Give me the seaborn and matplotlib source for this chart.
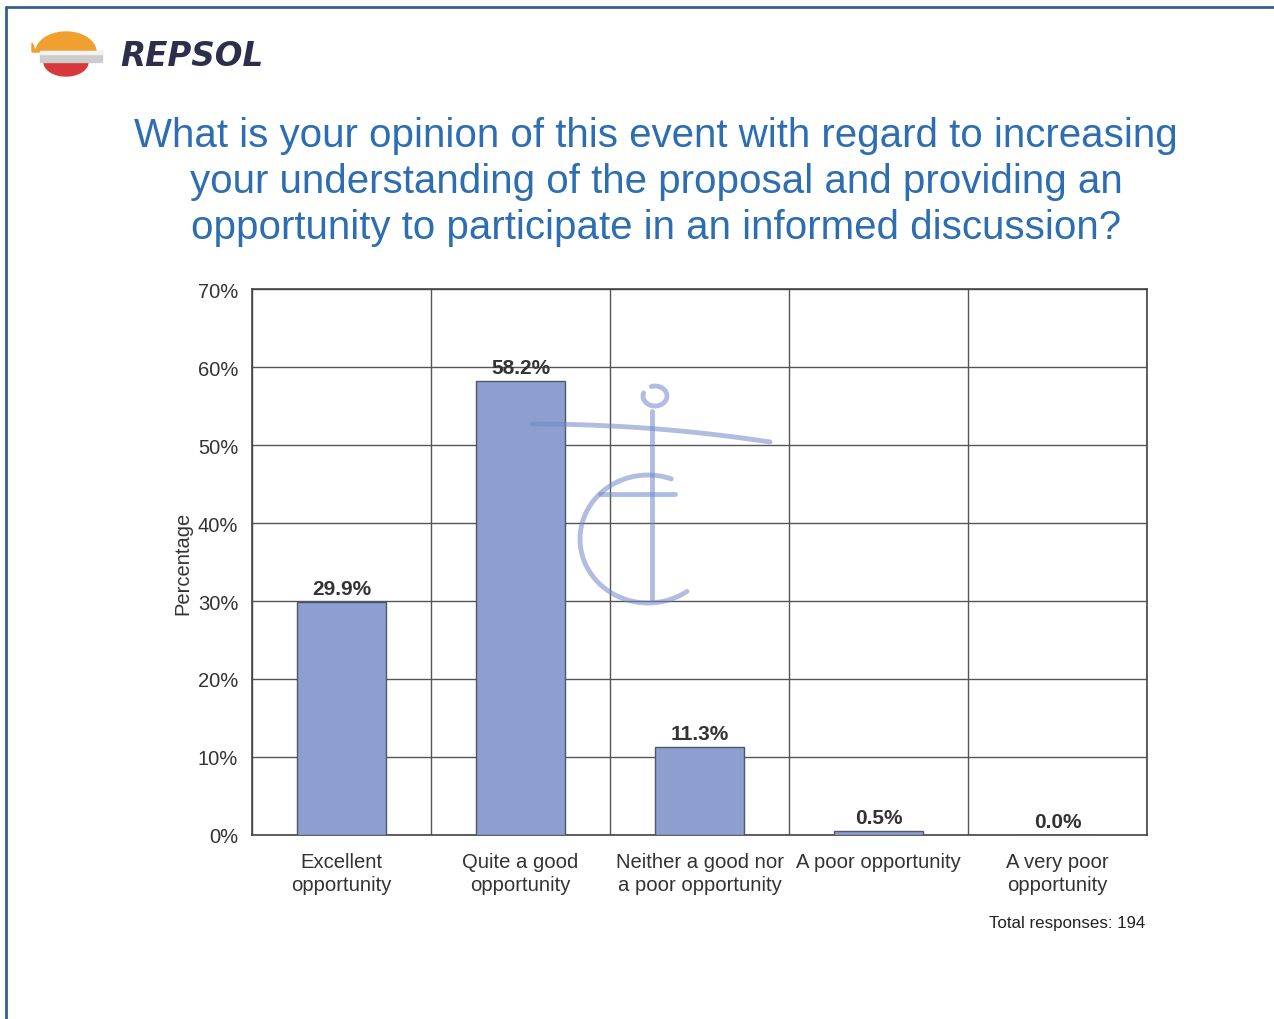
import numpy as np
import pandas as pd
import matplotlib.pyplot as plt
import matplotlib.patches as mpatches
from matplotlib.lines import Line2D
import seaborn as sns

# Survey answers and share of responses (%)
categories = ["Excellent\nopportunity", "Quite a good\nopportunity",
              "Neither a good nor\na poor opportunity", "A poor opportunity",
              "A very poor\nopportunity"]
percentages = [29.9, 58.2, 11.3, 0.5, 0.0]
y_ticks = [0, 10, 20, 30, 40, 50, 60, 70]
total_responses = 194

df = pd.DataFrame({"answer": categories, "pct": percentages})

sns.set_style("white")
plt.rcParams['font.family'] = ['Liberation Sans', 'DejaVu Sans']

W, H = 1274, 1020
fig = plt.figure(figsize=(W / 100, H / 100), dpi=100)
ax = fig.add_axes([252 / W, 1 - 836 / H, (1147 - 252) / W, (836 - 290) / H])

sns.barplot(data=df, x="answer", y="pct", color="#8C9FCF", width=0.5,
            edgecolor="#50566e", linewidth=1.0, saturation=1, ax=ax, zorder=3)

ax.set_ylim(0, 70)
ax.set_xlim(-0.5, len(categories) - 0.5)
ax.set_yticks(y_ticks)
ax.set_yticklabels([f"{t}%" for t in y_ticks], fontsize=14.5, color="#333333")
ax.set_xticks(range(len(categories)))
ax.set_xticklabels(categories, fontsize=14.6, color="#333333", linespacing=1.3)
ax.set_xticks(np.arange(-0.5, len(categories)), minor=True)
ax.tick_params(axis="x", which="major", length=0, pad=12)
ax.tick_params(axis="x", which="minor", length=10, color="#555555", width=1)
ax.tick_params(axis="y", length=8, color="#555555", width=1, pad=2)
ax.grid(axis="y", which="major", color="#555555", linewidth=1, zorder=0)
ax.grid(axis="x", which="minor", color="#555555", linewidth=1, zorder=0)
ax.set_axisbelow(True)
for s in ax.spines.values():
    s.set_color("#444444")
    s.set_linewidth(1.2)
ax.set_xlabel("")
ax.set_ylabel("Percentage", fontsize=14.5, color="#333333", labelpad=4)

for c in ax.containers:
    ax.bar_label(c, labels=[f"{v:.1f}%" for v in percentages], padding=3,
                 fontsize=15, fontweight="bold", color="#333333")

# title
fig.text(656 / W, 1 - 182 / H,
         "What is your opinion of this event with regard to increasing\n"
         "your understanding of the proposal and providing an\n"
         "opportunity to participate in an informed discussion?",
         ha="center", va="center", fontsize=29, color="#2D6DB2", linespacing=1.28)

fig.text(1145 / W, 1 - 924 / H, f"Total responses: {total_responses}",
         ha="right", va="center", fontsize=12.2, color="#222222")

# page frame
fig.add_artist(Line2D([6 / W, 1], [1 - 8 / H, 1 - 8 / H], color="#33608f", lw=2))
fig.add_artist(Line2D([6 / W, 6 / W], [0, 1 - 8 / H], color="#33608f", lw=2))


# logo, drawn in pixel coordinates
def poly(xs, ys, color, z=2):
    pts = np.column_stack([np.asarray(xs) / W, 1 - np.asarray(ys) / H])
    fig.add_artist(mpatches.Polygon(pts, closed=True, color=color,
                                    transform=fig.transFigure, zorder=z))


a = np.linspace(0, np.pi, 40)
poly(np.r_[66 + 30 * np.cos(a), 32, 32], np.r_[53 - 20 * np.sin(a), 44, 53], "#F0A030")
poly([40, 102, 102, 40], [52, 52, 63, 63], "#CCCCCC", 3)
poly([40, 102, 102, 40], [52, 52, 55, 55], "#F2F2F2", 3)
b = np.linspace(np.pi, 2 * np.pi, 40)
poly(66 + 22 * np.cos(b), 63 - 14 * np.sin(b), "#D8383C")
fig.text(120 / W, 1 - 56 / H, "REPSOL", fontsize=23.5, fontweight="bold",
         fontstyle="italic", family="DejaVu Sans", color="#2B2F4C",
         va="center", ha="left")

# faint watermark
wm = dict(color="#7088C8", alpha=0.55, lw=3.5, transform=fig.transFigure, solid_capstyle="round")
t = np.linspace(np.radians(70), np.radians(305), 60)
fig.add_artist(Line2D((648 + 68 * np.cos(t)) / W, 1 - (540 - 64 * np.sin(t)) / H, **wm))
fig.add_artist(Line2D([652 / W, 652 / W], [1 - 412 / H, 1 - 600 / H], **wm))
xs = np.linspace(532, 770, 40)
fig.add_artist(Line2D(xs / W, 1 - (425 + 18 * ((xs - 532) / 238) ** 2) / H, **wm))
fig.add_artist(Line2D([600 / W, 675 / W], [1 - 495 / H, 1 - 495 / H], **wm))
t2 = np.linspace(-np.pi * 0.6, np.pi * 1.1, 30)
fig.add_artist(Line2D((655 + 12 * np.cos(t2)) / W, 1 - (397 + 10 * np.sin(t2)) / H, **wm))

fig.savefig("out.png", dpi=100, facecolor="white")
